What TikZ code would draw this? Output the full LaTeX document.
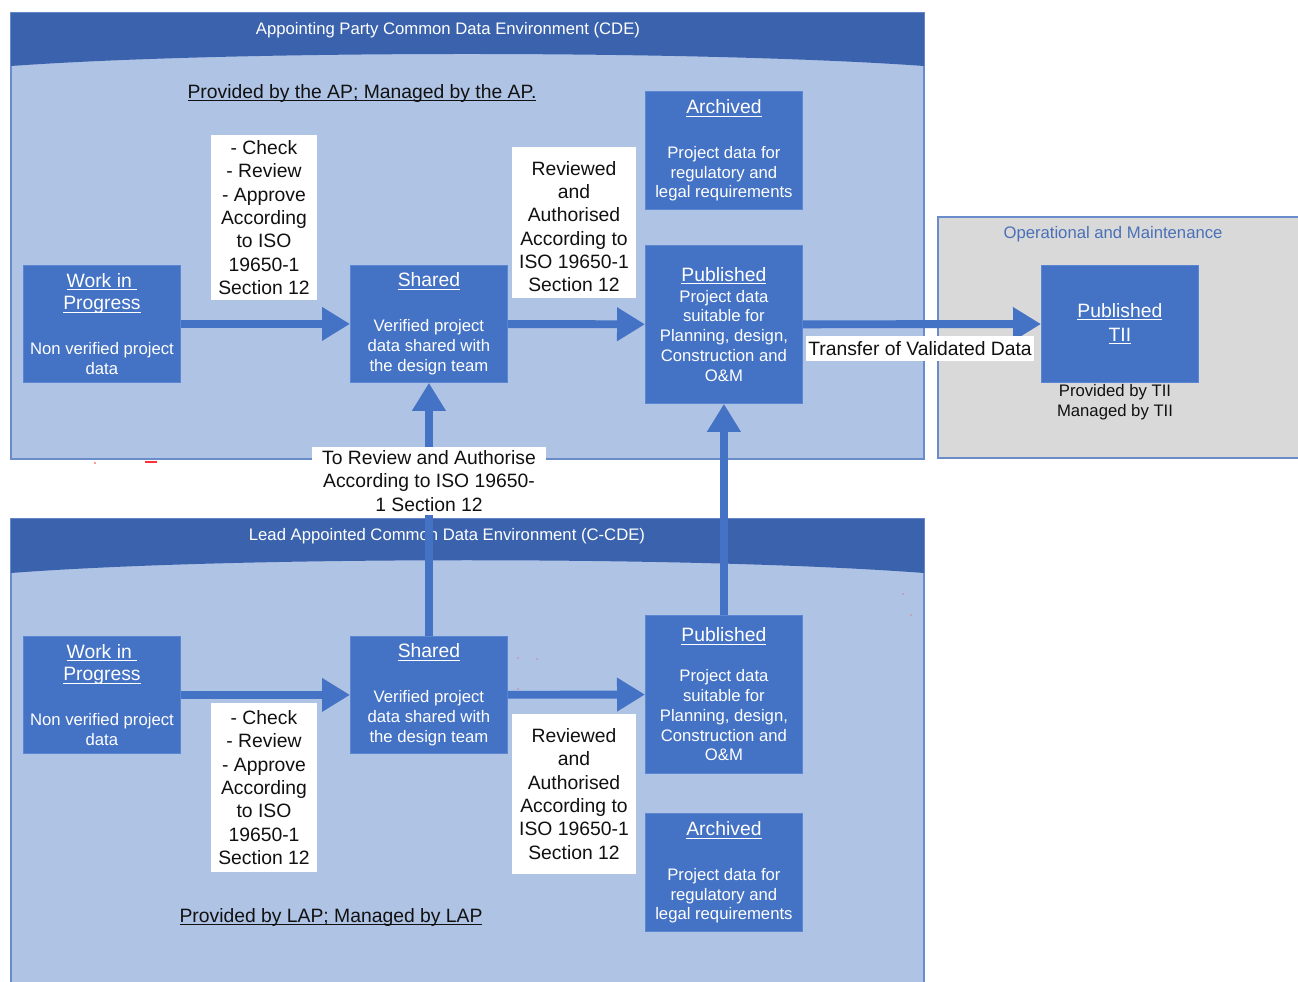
\documentclass[tikz,border=0pt]{standalone}
\usepackage{fontspec}
\setmainfont{Liberation Sans}
\usetikzlibrary{arrows.meta}

\definecolor{boxblue}{HTML}{4472C4}
\definecolor{bandblue}{HTML}{3B63AD}
\definecolor{paleblue}{HTML}{AFC3E5}
\definecolor{frameblue}{HTML}{6A8CCB}
\definecolor{greyarea}{HTML}{D9D9D9}
\definecolor{edgeblue}{HTML}{5C86D2}
\definecolor{inkblack}{HTML}{111111}
\definecolor{omtitle}{HTML}{4A70B8}

% underline drawn just under the baseline, crossing the descenders
\newcommand\ulined[1]{\underline{\raisebox{0pt}[\height][0pt]{#1}}}
\newcommand\stagetitle[1]{{\fontsize{11}{13}\selectfont\ulined{#1}}}

\begin{document}
\begin{tikzpicture}[x=0.02cm,y=-0.02cm,
  stage/.style={fill=boxblue, draw=edgeblue, line width=0.5pt, text=white,
    anchor=north west, align=center, inner sep=0pt, minimum width=3.14cm,
    font=\fontsize{9.5}{11.3}\selectfont},
  note/.style={fill=white, text=inkblack, align=center, inner sep=0pt,
    font=\fontsize{11}{13.3}\selectfont},
  flow/.style={draw=boxblue, line width=4.5pt,
    -{Triangle[length=0.56cm,width=0.64cm]}},
  bandtitle/.style={text=white, font=\fontsize{9.5}{11}\selectfont},
  areanote/.style={text=inkblack, font=\fontsize{11}{13}\selectfont},
]
\useasboundingbox (0,0) rectangle (1298,982);
\clip (0,0) rectangle (1298,982);

% ---- environments ----
\filldraw[fill=paleblue, draw=frameblue, line width=0.6pt] (11,13) rectangle (924,459);
\fill[bandblue] (11,13) -- (924,13) -- (924,66) .. controls (700,50) and (234,50) .. (11,66) -- cycle;
\node[bandtitle] (cdetitle) at (448,30) {Appointing Party Common Data Environment (CDE)};

\filldraw[fill=paleblue, draw=frameblue, line width=0.6pt] (11,519) rectangle (924,995);
\fill[bandblue] (11,519) -- (924,519) -- (924,573) .. controls (700,556) and (234,556) .. (11,573) -- cycle;
\node[bandtitle] (ccdetitle) at (447,536) {Lead Appointed Common Data Environment (C-CDE)};

\filldraw[fill=greyarea, draw=frameblue, line width=0.8pt] (938,217) rectangle (1320,458);
\node[text=omtitle, font=\fontsize{9.5}{11}\selectfont] (omtitle) at (1113,234) {Operational and Maintenance};

\node[areanote] (apnote) at (362,93) {\ulined{Provided by the AP; Managed by the AP.}};
\node[areanote] (lapnote) at (331,917) {\ulined{Provided by LAP; Managed by LAP}};
\node[text=inkblack, align=center, font=\fontsize{9.5}{11.3}\selectfont] (tiinote) at (1115,402)
  {Provided by TII\\Managed by TII};

% ---- stages ----
\node[stage, minimum height=2.34cm] (wip1) at (23,265)
  {\stagetitle{Work in\ }\\[1.7pt]\stagetitle{Progress}\\[14.2pt]Non verified project\\data};
\node[stage, minimum height=2.34cm] (sh1) at (350,265)
  {\stagetitle{Shared}\\[14.2pt]Verified project\\data shared with\\the design team};
\node[stage, minimum height=2.36cm] (ar1) at (645,91)
  {\stagetitle{Archived}\\[14.2pt]Project data for\\regulatory and\\legal requirements};
\node[stage, minimum height=3.16cm] (pu1) at (645,245)
  {\stagetitle{Published}\\[0.6pt]Project data\\suitable for\\Planning, design,\\Construction and\\O\&M};
\node[stage, minimum height=2.34cm] (tii) at (1041,265)
  {\stagetitle{Published}\\[2.3pt]\stagetitle{TII}};

\node[stage, minimum height=2.34cm] (wip2) at (23,636)
  {\stagetitle{Work in\ }\\[1.7pt]\stagetitle{Progress}\\[14.2pt]Non verified project\\data};
\node[stage, minimum height=2.34cm] (sh2) at (350,636)
  {\stagetitle{Shared}\\[14.2pt]Verified project\\data shared with\\the design team};
\node[stage, minimum height=3.16cm] (pu2) at (645,615)
  {\stagetitle{Published}\\[11.4pt]Project data\\suitable for\\Planning, design,\\Construction and\\O\&M};
\node[stage, minimum height=2.36cm] (ar2) at (645,813)
  {\stagetitle{Archived}\\[14.2pt]Project data for\\regulatory and\\legal requirements};

% ---- flows ----
\draw[flow] (wip1) -- (sh1);
\draw[flow] (sh1) -- (pu1);
\draw[flow] (pu1) -- (tii);
\draw[flow] (wip2) -- (sh2);
\draw[flow] (sh2) -- (pu2);
\draw[flow] (sh2) -- (sh1);
\draw[flow] (pu2) -- (pu1);

% ---- flow labels ----
\node[note, minimum width=2.12cm, minimum height=3.3cm] (chk1) at (264,217.5)
  {- Check\\- Review\\- Approve\\According\\to ISO\\19650-1\\Section 12};
\node[note, minimum width=2.48cm, minimum height=3.02cm] (rev1) at (574,222.5)
  {\rule{0pt}{12.6pt}Reviewed\\and\\Authorised\\According to\\ISO 19650-1\\Section 12};
\node[note, minimum width=4.56cm, minimum height=0.5cm] (transfer) at (920,348.5)
  {Transfer of Validated Data};
\node[note, minimum width=4.68cm, minimum height=1.36cm] (torev) at (429,481)
  {To Review and Authorise\\According to ISO 19650-\\1 Section 12};
\node[note, minimum width=2.12cm, minimum height=3.38cm] (chk2) at (264,787.5)
  {- Check\\- Review\\- Approve\\According\\to ISO\\19650-1\\Section 12};
\node[note, minimum width=2.48cm, minimum height=3.2cm] (rev2) at (574,794)
  {Reviewed\\and\\Authorised\\According to\\ISO 19650-1\\Section 12};

% ---- stray red marks ----
\fill[red!80] (145,461) rectangle (157,463.5);
\fill[red!80] (95,463) circle (0.8);
\fill[red!80] (518,658) circle (0.7);
\fill[red!80] (537,659) circle (0.7);
\fill[red!80] (518,689) circle (0.7);
\fill[red!80] (903,594) circle (0.7);
\fill[red!80] (911,615) circle (0.7);
\end{tikzpicture}
\end{document}
